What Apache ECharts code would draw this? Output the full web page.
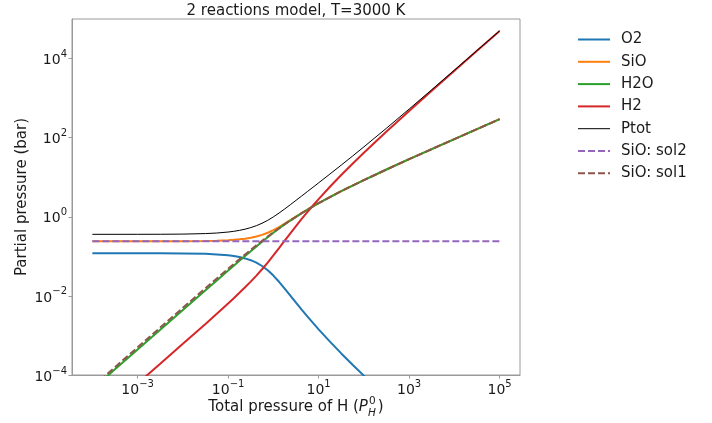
<!DOCTYPE html>
<html><head><meta charset="utf-8">
<script src="https://cdn.jsdelivr.net/npm/echarts@6/dist/echarts.min.js"></script>
<style>html,body{margin:0;padding:0;background:#fff}#c{width:712px;height:423px}</style>
</head><body><div id="c"></div>
<script>
// ---- data ----
const chartTitle = '2 reactions model, T=3000 K';
const yAxisName = 'Partial pressure (bar)';
const seriesNames = ['O2', 'SiO', 'H2O', 'H2', 'Ptot', 'SiO: sol2', 'SiO: sol1'];
const xTickExponents = [-3, -1, 1, 3, 5];
const yTickExponents = [-4, -2, 0, 2, 4];

// total pressure of H (x values)
const pressureH = [1e-4, 3.162e-4, 1e-3, 3.162e-3, 0.01, 0.03162, 0.05623, 0.1, 0.1334, 0.1778,
  0.2371, 0.3162, 0.4217, 0.5623, 0.7499, 1, 1.3335, 1.778, 2.3714, 3.162,
  4.217, 5.623, 7.499, 10, 17.78, 31.62, 56.23, 100, 316.2, 1000,
  3162, 1e4, 31623, 1e5];

const o2 = [0.12, 0.11995, 0.11985, 0.11953, 0.1185, 0.1154, 0.1119, 0.1059, 0.10147, 0.0957,
  0.08857, 0.0799, 0.06903, 0.0570, 0.04444, 0.0326, 0.02274, 0.01534, 0.010181, 0.006757,
  0.004508, 0.003038, 0.00207, 0.001424, 6.96e-4, 3.51e-4, 1.82e-4, 9.62e-5, 2.81e-5, 8.48e-6,
  2.6e-6, 8.1e-7, 2.6e-7, 8.0e-8];
const sio = [0.24, 0.24, 0.2401, 0.2404, 0.2414, 0.2446, 0.24841, 0.2554, 0.26087, 0.2686,
  0.27923, 0.2940, 0.31629, 0.3480, 0.39421, 0.4601, 0.55106, 0.6710, 0.82359, 1.0109,
  1.23771, 1.5076, 1.82637, 2.2019, 3.1505, 4.4342, 6.1599, 8.4714, 15.687, 28.543,
  51.41, 92.09, 164.43, 293.08];
const h2o = [4.39e-5, 1.388e-4, 4.39e-4, 1.388e-3, 4.387e-3, 0.01384, 0.02458, 0.04356, 0.05795, 0.0770,
  0.10206, 0.1350, 0.17823, 0.2339, 0.30532, 0.3949, 0.50557, 0.6404, 0.80307, 0.9976,
  1.22867, 1.5015, 1.82313, 2.1989, 3.149, 4.4335, 6.1595, 8.4712, 15.687, 28.543,
  51.41, 92.09, 164.43, 293.08];
const h2 = [6.1e-6, 1.93e-5, 6.1e-5, 1.93e-4, 6.13e-4, 1.96e-3, 0.003533, 6.44e-3, 0.008747, 0.01197,
  0.01649, 0.02297, 0.03262, 0.0471, 0.06963, 0.1051, 0.16118, 0.2486, 0.38265, 0.5834,
  0.87982, 1.3098, 1.92638, 2.8011, 5.741, 11.377, 21.956, 41.529, 142.41, 471.46,
  1529.6, 4907.9, 15647, 49707];
const ptot = [0.36005, 0.36016, 0.3605, 0.3616, 0.3649, 0.3758, 0.38842, 0.4113, 0.42904, 0.4533,
  0.48635, 0.5319, 0.59617, 0.686, 0.8136, 0.9927, 1.24055, 1.5753, 2.01949, 2.5987,
  3.35071, 4.3219, 5.57795, 7.2033, 12.041, 20.244, 34.276, 58.47, 173.79, 528.5,
  1632.4, 5092.1, 15976, 50293];
const sol2X = [1e-4, 1e5];
const sol2 = [0.24, 0.24];
const sol1 = [5e-5, 1.581e-4, 5e-4, 1.5806e-3, 4.99e-3, 0.01566, 0.02767, 0.04864, 0.06431, 0.0848,
  0.11137, 0.1457, 0.18997, 0.246, 0.31685, 0.4051, 0.51391, 0.6469, 0.80794, 1.0011,
  1.23122, 1.5034, 1.82406, 2.1997, 3.1496, 4.4338, 6.1595, 8.4712, 15.687, 28.543,
  51.41, 92.09, 164.43, 293.08];

// ---- chart ----
const FONT = '"DejaVu Sans", sans-serif';
const colors = ['#1f77b4', '#ff7f0e', '#2ca02c', '#d62728', '#000000', '#9467bd', '#8c564b'];
const toLog = (xs, ys) => xs.map((x, i) => [Math.log10(x), Math.log10(ys[i])]);
const seriesData = [
  toLog(pressureH, o2), toLog(pressureH, sio), toLog(pressureH, h2o), toLog(pressureH, h2),
  toLog(pressureH, ptot), toLog(sol2X, sol2), toLog(pressureH, sol1)
];
const widths = [2, 2, 2, 2, 1, 2, 2];
const types = ['solid', 'solid', 'solid', 'solid', 'solid', [7, 3], [7, 3]];

const expFmt = v => {
  const n = Math.round(v);
  return '{b|10}{s|' + (n < 0 ? '\u2212' : '') + Math.abs(n) + '}';
};
const richTicks = {
  b: { fontSize: 14, fontFamily: FONT, color: '#1a1a1a', lineHeight: 18, verticalAlign: 'bottom' },
  s: { fontSize: 10, fontFamily: FONT, color: '#1a1a1a', lineHeight: 18, verticalAlign: 'top' }
};

const GL = 72, GT = 19, GW = 448, GH = 356;

// measure x axis title parts
const ctx = document.createElement('canvas').getContext('2d');
ctx.font = '15px "DejaVu Sans"';
const w1 = ctx.measureText('Total pressure of H (').width;
const wClose = ctx.measureText(')').width;
ctx.font = 'italic 15px "DejaVu Sans"';
const wP = ctx.measureText('P').width;
ctx.font = 'italic 10.5px "DejaVu Sans"';
const wSub = ctx.measureText('H').width;
const totalW = w1 + wP + 1 + wSub + 1 + wClose;
const x0 = GL + GW / 2 - totalW / 2;
const yName = 407;

const chart = echarts.init(document.getElementById('c'), null, { renderer: 'canvas' });
chart.setOption({
  animation: false,
  backgroundColor: '#ffffff',
  grid: { left: GL, top: GT, width: GW, height: GH, show: true, borderColor: '#9a9a9a', borderWidth: 1, containLabel: false },
  xAxis: {
    type: 'value', min: -4.45, max: 5.45,
    axisLine: { show: true, onZero: false, lineStyle: { color: '#9a9a9a', width: 1 } },
    splitLine: { show: false },
    axisTick: { show: true, length: 3.5, lineStyle: { color: '#9a9a9a' }, customValues: xTickExponents },
    axisLabel: { margin: 4, formatter: expFmt, rich: richTicks, customValues: xTickExponents }
  },
  yAxis: {
    type: 'value', min: -4, max: 5,
    name: yAxisName, nameLocation: 'middle', nameRotate: 90, nameGap: 42, nameMoveOverlap: false,
    nameTextStyle: { fontSize: 15, fontFamily: FONT, color: '#1a1a1a' },
    axisLine: { show: true, onZero: false, lineStyle: { color: '#9a9a9a', width: 1 } },
    splitLine: { show: false },
    axisTick: { show: true, length: 3.5, lineStyle: { color: '#9a9a9a' }, customValues: yTickExponents },
    axisLabel: { margin: 5, formatter: expFmt, rich: richTicks, customValues: yTickExponents }
  },
  legend: {
    orient: 'vertical', left: 577, top: 32, padding: 0,
    itemWidth: 32, itemHeight: 14, itemGap: 7.3,
    itemStyle: { opacity: 0 },
    lineStyle: { width: 'inherit' },
    textStyle: { fontSize: 15, fontFamily: FONT, color: '#1a1a1a', lineHeight: 14, padding: [0, 0, 0, 6] },
    data: seriesNames
  },
  graphic: [
    { type: 'text', x: GL + GW / 2, y: 11, style: { text: chartTitle, font: '15px ' + FONT, fill: '#1a1a1a', align: 'center', verticalAlign: 'middle' } },
    { type: 'text', x: x0, y: yName, style: { text: 'Total pressure of H (', font: '15px ' + FONT, fill: '#1a1a1a', align: 'left', verticalAlign: 'middle' } },
    { type: 'text', x: x0 + w1, y: yName, style: { text: 'P', font: 'italic 15px ' + FONT, fill: '#1a1a1a', align: 'left', verticalAlign: 'middle' } },
    { type: 'text', x: x0 + w1 + wP + 1, y: yName - 6, style: { text: '0', font: '10.5px ' + FONT, fill: '#1a1a1a', align: 'left', verticalAlign: 'middle' } },
    { type: 'text', x: x0 + w1 + wP, y: yName + 6, style: { text: 'H', font: 'italic 10.5px ' + FONT, fill: '#1a1a1a', align: 'left', verticalAlign: 'middle' } },
    { type: 'text', x: x0 + w1 + wP + 1 + wSub + 1, y: yName, style: { text: ')', font: '15px ' + FONT, fill: '#1a1a1a', align: 'left', verticalAlign: 'middle' } }
  ],
  series: seriesNames.map((name, i) => ({
    name, type: 'line', data: seriesData[i],
    showSymbol: false, symbol: 'none', clip: true, smooth: false,
    lineStyle: { color: colors[i], width: widths[i], type: types[i] },
    itemStyle: { color: colors[i] },
    emphasis: { disabled: true }
  }))
});
</script>
</body></html>
